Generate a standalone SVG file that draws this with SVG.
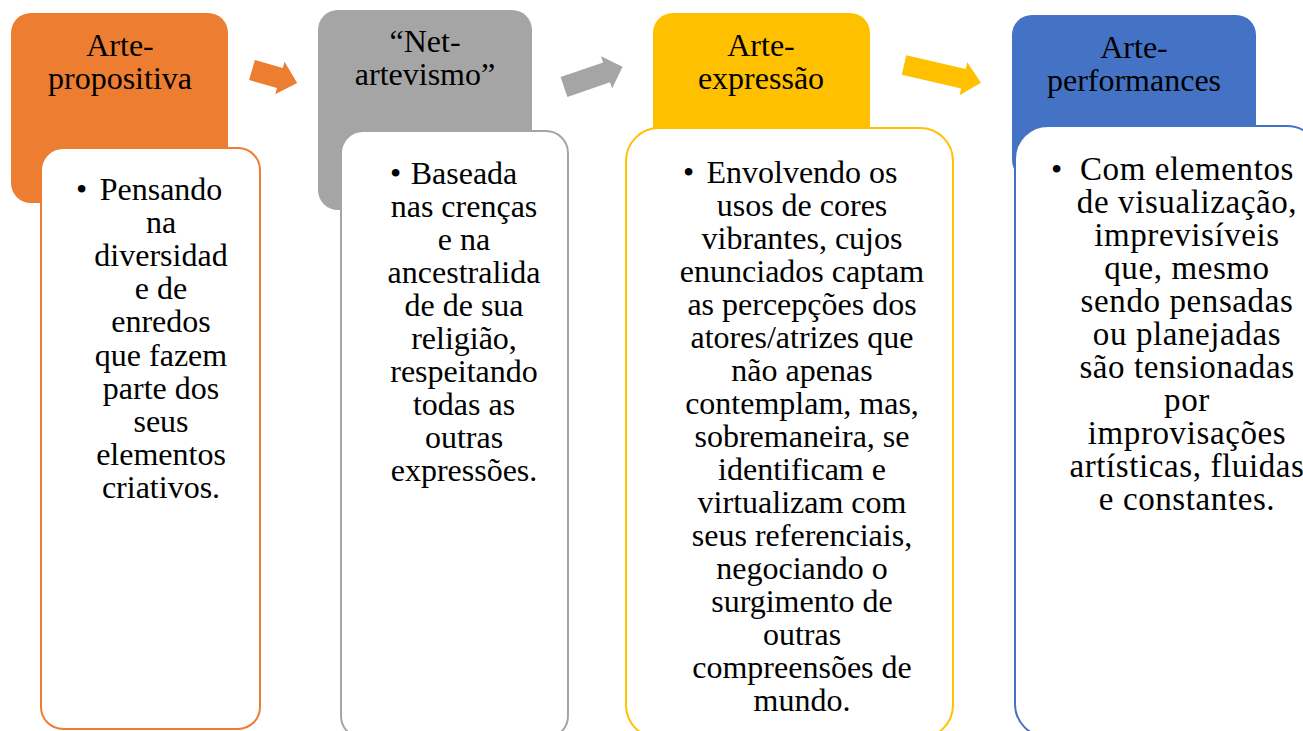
<svg xmlns="http://www.w3.org/2000/svg" width="1303" height="731" viewBox="0 0 1303 731">
  <style>
    text { font-family: "Liberation Serif", "Times New Roman", serif; font-size: 32px; fill: #000; }
    .c { text-anchor: middle; }
    .w { font-size: 33px; letter-spacing: 0.6px; }
    .body { fill: #fff; stroke-width: 2; }
  </style>
  <defs>
    <clipPath id="page"><rect x="0" y="0" width="1303" height="731"/></clipPath>
  </defs>
  <rect x="0" y="0" width="1303" height="731" fill="#fff"/>

  <g id="connectors">
    <polygon fill="#ED7D31" points="0,-10.5 29,-10.5 29,-17 47,0 29,17 29,10.5 0,10.5" transform="translate(252,70) rotate(16)"/>
    <polygon fill="#A5A5A5" points="0,-10.5 45,-10.5 45,-17 62,0 45,17 45,10.5 0,10.5" transform="translate(564,87) rotate(-19)"/>
    <polygon fill="#FFC000" points="0,-10 61,-10 61,-17 79,0 61,17 61,10 0,10" transform="translate(904,65) rotate(13)"/>
  </g>

  <g clip-path="url(#page)">
    <g id="node-1-header">
      <rect x="11" y="13" width="217" height="190" rx="20" fill="#ED7D31"/>
      <text class="c" x="120" y="56">Arte-</text>
      <text class="c" x="120" y="89">propositiva</text>
    </g>
    <g id="node-1-body">
      <rect class="body" x="41" y="148" width="219" height="581" rx="22" stroke="#ED7D31"/>
      <text x="76" y="200">•</text>
      <text class="c" x="161" y="200">Pensando</text>
      <text class="c" x="161" y="233">na</text>
      <text class="c" x="161" y="266">diversidad</text>
      <text class="c" x="161" y="299">e de</text>
      <text class="c" x="161" y="332">enredos</text>
      <text class="c" x="161" y="366">que fazem</text>
      <text class="c" x="161" y="399">parte dos</text>
      <text class="c" x="161" y="432">seus</text>
      <text class="c" x="161" y="465">elementos</text>
      <text class="c" x="161" y="498">criativos.</text>
    </g>

    <g id="node-2-header">
      <rect x="318" y="10" width="214" height="200" rx="20" fill="#A5A5A5"/>
      <text class="c" x="425" y="52">“Net-</text>
      <text class="c" x="425" y="85">artevismo”</text>
    </g>
    <g id="node-2-body">
      <rect class="body" x="341" y="131" width="227" height="607" rx="22" stroke="#A5A5A5"/>
      <text x="390" y="184">•</text>
      <text class="c" x="464" y="184">Baseada</text>
      <text class="c" x="464" y="217">nas crenças</text>
      <text class="c" x="464" y="250">e na</text>
      <text class="c" x="464" y="283">ancestralida</text>
      <text class="c" x="464" y="316">de de sua</text>
      <text class="c" x="464" y="349">religião,</text>
      <text class="c" x="464" y="382">respeitando</text>
      <text class="c" x="464" y="415">todas as</text>
      <text class="c" x="464" y="448">outras</text>
      <text class="c" x="464" y="481">expressões.</text>
    </g>

    <g id="node-3-header">
      <rect x="653" y="13" width="217" height="200" rx="20" fill="#FFC000"/>
      <text class="c" x="761" y="56">Arte-</text>
      <text class="c" x="761" y="89">expressão</text>
    </g>
    <g id="node-3-body">
      <rect class="body" x="626" y="128" width="327" height="610" rx="33" stroke="#FFC000"/>
      <text x="683" y="183">•</text>
      <text class="c" x="802" y="183">Envolvendo os</text>
      <text class="c" x="802" y="216">usos de cores</text>
      <text class="c" x="802" y="249">vibrantes, cujos</text>
      <text class="c" x="802" y="282">enunciados captam</text>
      <text class="c" x="802" y="315">as percepções dos</text>
      <text class="c" x="802" y="348">atores/atrizes que</text>
      <text class="c" x="802" y="381">não apenas</text>
      <text class="c" x="802" y="414">contemplam, mas,</text>
      <text class="c" x="802" y="447">sobremaneira, se</text>
      <text class="c" x="802" y="480">identificam e</text>
      <text class="c" x="802" y="513">virtualizam com</text>
      <text class="c" x="802" y="546">seus referenciais,</text>
      <text class="c" x="802" y="579">negociando o</text>
      <text class="c" x="802" y="612">surgimento de</text>
      <text class="c" x="802" y="645">outras</text>
      <text class="c" x="802" y="678">compreensões de</text>
      <text class="c" x="802" y="711">mundo.</text>
    </g>

    <g id="node-4-header">
      <rect x="1012" y="15" width="244" height="165" rx="20" fill="#4472C4"/>
      <text class="c" x="1134" y="58">Arte-</text>
      <text class="c" x="1134" y="91">performances</text>
    </g>
    <g id="node-4-body">
      <rect class="body" x="1015" y="126" width="305" height="611" rx="33" stroke="#4472C4"/>
      <text x="1051" y="180">•</text>
      <text class="c w" x="1187" y="180">Com elementos</text>
      <text class="c w" x="1187" y="213">de visualização,</text>
      <text class="c w" x="1187" y="246">imprevisíveis</text>
      <text class="c w" x="1187" y="279">que, mesmo</text>
      <text class="c w" x="1187" y="312">sendo pensadas</text>
      <text class="c w" x="1187" y="345">ou planejadas</text>
      <text class="c w" x="1187" y="378">são tensionadas</text>
      <text class="c w" x="1187" y="411">por</text>
      <text class="c w" x="1187" y="444">improvisações</text>
      <text class="c w" x="1187" y="477">artísticas, fluidas</text>
      <text class="c w" x="1187" y="510">e constantes.</text>
    </g>
  </g>
</svg>
